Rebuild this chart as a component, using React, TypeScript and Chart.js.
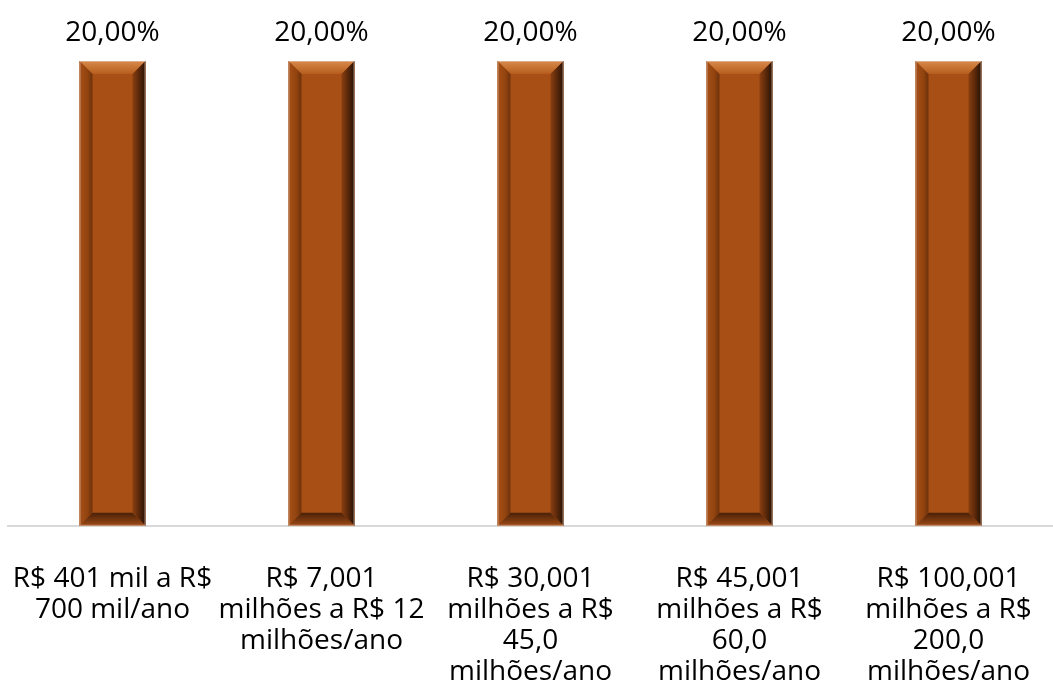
import React, { useEffect, useRef } from "react";
import { Chart, registerables } from "chart.js";

Chart.register(...registerables);

const categories: string[][] = [
  ["R$ 401 mil a R$", "700 mil/ano"],
  ["R$ 7,001", "milhões a R$ 12", "milhões/ano"],
  ["R$ 30,001", "milhões a R$", "45,0", "milhões/ano"],
  ["R$ 45,001", "milhões a R$", "60,0", "milhões/ano"],
  ["R$ 100,001", "milhões a R$", "200,0", "milhões/ano"],
];
const values: number[] = [20, 20, 20, 20, 20];

const FONT = "'Open Sans', sans-serif";

const bevelPlugin = {
  id: "bevelBars",
  afterDatasetsDraw(chart: any) {
    const ctx = chart.ctx as CanvasRenderingContext2D;
    const meta = chart.getDatasetMeta(0);
    meta.data.forEach((el: any, i: number) => {
      const { x, y, base, width } = el.getProps(["x", "y", "base", "width"], true);
      const l = x - width / 2;
      const r = x + width / 2;
      const t = Math.min(y, base);
      const bt = Math.max(y, base);
      const b = 13;
      ctx.save();
      ctx.fillStyle = "#A84F15";
      ctx.fillRect(l, t, r - l, bt - t);
      let g = ctx.createLinearGradient(0, t, 0, t + b);
      g.addColorStop(0, "#D88A4A");
      g.addColorStop(1, "#B65D1E");
      ctx.fillStyle = g;
      ctx.beginPath();
      ctx.moveTo(l, t); ctx.lineTo(r, t); ctx.lineTo(r - b, t + b); ctx.lineTo(l + b, t + b); ctx.closePath();
      ctx.fill();
      g = ctx.createLinearGradient(l, 0, l + b, 0);
      g.addColorStop(0, "#A64F17");
      g.addColorStop(0.6, "#93440F");
      g.addColorStop(1, "#6E310C");
      ctx.fillStyle = g;
      ctx.beginPath();
      ctx.moveTo(l, t); ctx.lineTo(l + b, t + b); ctx.lineTo(l + b, bt - b); ctx.lineTo(l, bt); ctx.closePath();
      ctx.fill();
      g = ctx.createLinearGradient(r - b, 0, r, 0);
      g.addColorStop(0, "#8A3F10");
      g.addColorStop(0.5, "#5A280A");
      g.addColorStop(1, "#241004");
      ctx.fillStyle = g;
      ctx.beginPath();
      ctx.moveTo(r, t); ctx.lineTo(r, bt); ctx.lineTo(r - b, bt - b); ctx.lineTo(r - b, t + b); ctx.closePath();
      ctx.fill();
      g = ctx.createLinearGradient(0, bt - b, 0, bt);
      g.addColorStop(0, "#4A2108");
      g.addColorStop(1, "#9E4A15");
      ctx.fillStyle = g;
      ctx.beginPath();
      ctx.moveTo(l, bt); ctx.lineTo(l + b, bt - b); ctx.lineTo(r - b, bt - b); ctx.lineTo(r, bt); ctx.closePath();
      ctx.fill();
      ctx.strokeStyle = "rgba(220,190,170,0.7)";
      ctx.lineWidth = 1;
      ctx.strokeRect(l + 0.5, t + 0.5, r - l - 1, bt - t - 1);
      const v = values[i];
      ctx.fillStyle = "#000000";
      ctx.font = `28px ${FONT}`;
      ctx.textAlign = "center";
      ctx.textBaseline = "middle";
      ctx.fillText(v.toFixed(2).replace(".", ",") + "%", x, t - 28);
      ctx.restore();
    });
  },
};

export default function App() {
  const ref = useRef<HTMLCanvasElement | null>(null);
  useEffect(() => {
    if (!ref.current) return;
    const chart = new Chart(ref.current, {
      type: "bar",
      data: {
        labels: categories,
        datasets: [
          {
            data: values,
            backgroundColor: "#A84F15",
            borderWidth: 0,
            barPercentage: 0.316,
            categoryPercentage: 1,
          },
        ],
      },
      options: {
        animation: false,
        responsive: true,
        maintainAspectRatio: false,
        layout: { padding: { top: 61, left: 8, right: 0, bottom: 12 } },
        plugins: { legend: { display: false }, tooltip: { enabled: false } },
        scales: {
          x: {
            grid: { display: false, drawTicks: true, tickLength: 38 },
            border: { display: true, color: "#D9D9D9", width: 2 },
            ticks: {
              color: "#000000",
              font: { family: FONT, size: 28, lineHeight: 1.1 },
              padding: 0,
              autoSkip: false,
              maxRotation: 0,
              minRotation: 0,
            },
          },
          y: {
            display: false,
            min: 0,
            max: 20,
          },
        },
      },
      plugins: [bevelPlugin],
    });
    return () => chart.destroy();
  }, []);
  return (
    <div style={{ position: "absolute", left: 0, top: 0, width: 1053, height: 699, background: "#fff" }}>
      <canvas ref={ref} />
    </div>
  );
}
